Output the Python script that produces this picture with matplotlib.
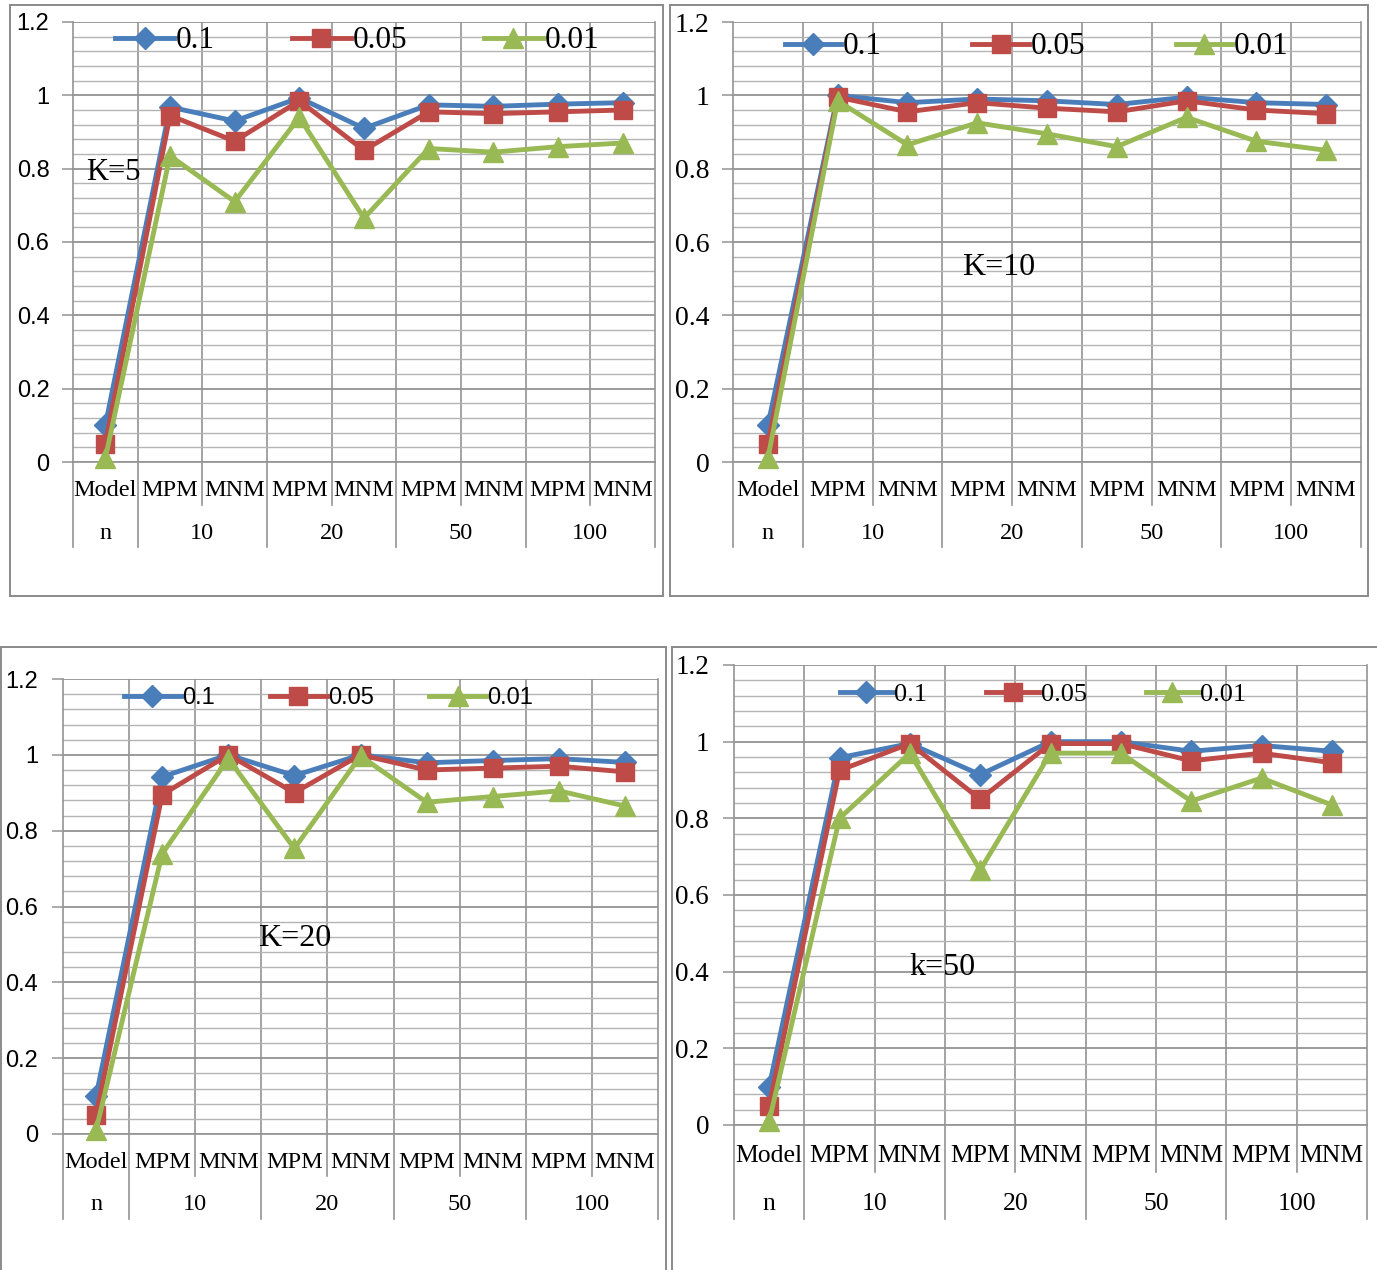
import numpy as np
import matplotlib
matplotlib.use("Agg")
import matplotlib.pyplot as plt
import matplotlib.transforms as mtrans
from matplotlib.lines import Line2D
from matplotlib.patches import Rectangle
from matplotlib.ticker import MultipleLocator

W, H = 1377, 1270

categories = ["Model", "MPM", "MNM", "MPM", "MNM", "MPM", "MNM", "MPM", "MNM"]
groups = ["n", "10", "20", "50", "100"]
group_spans = [(0, 0), (1, 2), (3, 4), (5, 6), (7, 8)]
series_names = ["0.1", "0.05", "0.01"]
y_ticks = [0, 0.2, 0.4, 0.6, 0.8, 1.0, 1.2]
y_ticklabels = ["0", "0.2", "0.4", "0.6", "0.8", "1", "1.2"]

# K=5
k5_a10 = [0.10, 0.968, 0.930, 0.993, 0.910, 0.974, 0.970, 0.976, 0.980]
k5_a05 = [0.05, 0.945, 0.875, 0.985, 0.850, 0.955, 0.950, 0.955, 0.960]
k5_a01 = [0.01, 0.835, 0.710, 0.940, 0.665, 0.855, 0.845, 0.860, 0.870]
# K=10
k10_a10 = [0.10, 1.000, 0.980, 0.990, 0.985, 0.975, 0.995, 0.980, 0.975]
k10_a05 = [0.05, 0.995, 0.955, 0.980, 0.965, 0.955, 0.985, 0.960, 0.950]
k10_a01 = [0.01, 0.985, 0.865, 0.925, 0.895, 0.860, 0.940, 0.875, 0.850]
# K=20
k20_a10 = [0.10, 0.942, 1.000, 0.945, 1.000, 0.979, 0.985, 0.990, 0.980]
k20_a05 = [0.05, 0.895, 1.000, 0.900, 1.000, 0.960, 0.965, 0.970, 0.955]
k20_a01 = [0.01, 0.739, 0.990, 0.753, 0.997, 0.875, 0.890, 0.905, 0.865]
# k=50
k50_a10 = [0.10, 0.958, 0.995, 0.914, 1.000, 1.000, 0.975, 0.990, 0.975]
k50_a05 = [0.05, 0.925, 0.995, 0.850, 0.995, 0.995, 0.950, 0.970, 0.945]
k50_a01 = [0.01, 0.800, 0.970, 0.665, 0.970, 0.970, 0.845, 0.905, 0.835]

colors = ["#4a7ebb", "#be4b48", "#98b954"]
markers = ["D", "s", "^"]
msizes = [11, 13, 14]

SERIF = "Liberation Serif"
SANS = "Liberation Sans"
GRID = "#939393"
GRID_MINOR = "#b4b4b4"

panels = [
    dict(series=[k5_a10, k5_a05, k5_a01], label="K=5", lab_xy=(-0.3, 0.79), lab_ha="left",
         plot=(73, 22, 655, 462), frame=(10, 5, 663, 596),
         tick_font=SANS, tick_size=17, tick_pad=9,
         leg_font=SERIF, leg_size=22.5, leg_at=(115, 41), leg_cs=2.45, leg_hl=1.9,
         cat_size=17.5, row1=490, row2=533, short_end=505, long_end=547, k_size=22),
    dict(series=[k10_a10, k10_a05, k10_a01], label="K=10", lab_xy=(3.31, 0.53), lab_ha="center",
         plot=(733, 22, 1361, 462), frame=(670, 5, 1368, 596),
         tick_font=SERIF, tick_size=20, tick_pad=9,
         leg_font=SERIF, leg_size=22.5, leg_at=(785, 47), leg_cs=2.9, leg_hl=1.8,
         cat_size=17.5, row1=490, row2=533, short_end=505, long_end=547, k_size=23),
    dict(series=[k20_a10, k20_a05, k20_a01], label="K=20", lab_xy=(3.0, 0.516), lab_ha="center",
         plot=(63, 679, 658, 1134), frame=(1, 647, 666, 1290),
         tick_font=SANS, tick_size=17, tick_pad=10,
         leg_font=SANS, leg_size=17, leg_at=(124, 698), leg_cs=2.35, leg_hl=2.4,
         cat_size=17.5, row1=1162, row2=1205, short_end=1176, long_end=1219, k_size=23),
    dict(series=[k50_a10, k50_a05, k50_a01], label="k=50", lab_xy=(2.47, 0.41), lab_ha="center",
         plot=(734, 665, 1367, 1125), frame=(672, 647, 1390, 1290),
         tick_font=SERIF, tick_size=19.5, tick_pad=10,
         leg_font=SERIF, leg_size=19, leg_at=(840, 694), leg_cs=2.25, leg_hl=2.0,
         cat_size=18.5, row1=1156, row2=1204, short_end=1172, long_end=1219, k_size=23),
]

fig = plt.figure(figsize=(W / 100, H / 100), dpi=100)
fig.patch.set_facecolor("white")

x = np.arange(len(categories))
group_edges = {-0.5, 8.5}
for s, e in group_spans:
    group_edges.add(s - 0.5)
    group_edges.add(e + 0.5)

for p in panels:
    fx0, fy0, fx1, fy1 = p["frame"]
    fig.patches.append(Rectangle((fx0 / W, 1 - fy1 / H), (fx1 - fx0) / W, (fy1 - fy0) / H,
                                 transform=fig.transFigure, fill=False,
                                 edgecolor="#8a8a8a", lw=1.4))

    x0, y0, x1, y1 = p["plot"]
    ax = fig.add_axes([x0 / W, 1 - y1 / H, (x1 - x0) / W, (y1 - y0) / H])
    ax.set_xlim(-0.5, 8.5)
    ax.set_ylim(0, 1.2)
    h = y1 - y0

    def yfrac(py):
        return (y1 - py) / h

    ax.set_yticks(y_ticks)
    ax.set_yticklabels(y_ticklabels, fontfamily=p["tick_font"], fontsize=p["tick_size"])
    ax.yaxis.set_minor_locator(MultipleLocator(0.04))
    ax.set_xticks(np.arange(0.5, 8.5, 1.0))
    ax.set_xticklabels([])
    ax.tick_params(axis="x", length=0)
    ax.tick_params(axis="y", which="major", length=8, width=1.1, color=GRID,
                   pad=p["tick_pad"], direction="out")
    ax.tick_params(axis="y", which="minor", length=0)
    ax.grid(which="major", axis="y", color=GRID, lw=1.3)
    ax.grid(which="minor", axis="y", color=GRID_MINOR, lw=1.0)
    ax.grid(which="major", axis="x", color=GRID, lw=1.2)
    ax.set_axisbelow(True)
    for side in ["left", "right", "bottom", "top"]:
        ax.spines[side].set_color(GRID)
        ax.spines[side].set_linewidth(1.2)
    ax.spines["top"].set_visible(False)

    for vals, name, c, m, ms in zip(p["series"], series_names, colors, markers, msizes):
        ax.plot(x, vals, color=c, lw=3.5, marker=m, markersize=ms,
                markeredgecolor=c, label=name, clip_on=False, zorder=3)

    ax.legend(loc="center left",
              bbox_to_anchor=((p["leg_at"][0] - x0) / (x1 - x0), yfrac(p["leg_at"][1])),
              ncol=3, frameon=False, borderpad=0, borderaxespad=0,
              handlelength=p["leg_hl"], handletextpad=0.05,
              columnspacing=p["leg_cs"], numpoints=1,
              prop=dict(family=p["leg_font"], size=p["leg_size"]))

    ax.text(p["lab_xy"][0], p["lab_xy"][1], p["label"], fontfamily=SERIF,
            fontsize=p["k_size"], ha=p["lab_ha"], va="center", zorder=4)

    blend = mtrans.blended_transform_factory(ax.transData, ax.transAxes)
    for b in np.arange(-0.5, 9.0, 1.0):
        end = p["long_end"] if b in group_edges else p["short_end"]
        ax.add_line(Line2D([b, b], [0, yfrac(end)], transform=blend, color=GRID,
                           lw=1.2, clip_on=False))
    for i, c in enumerate(categories):
        ax.text(i, yfrac(p["row1"]), c, transform=blend, ha="center", va="center",
                fontfamily=SERIF, fontsize=p["cat_size"])
    for g, (s, e) in zip(groups, group_spans):
        ax.text((s + e) / 2, yfrac(p["row2"]), g, transform=blend, ha="center",
                va="center", fontfamily=SERIF, fontsize=p["cat_size"])

fig.savefig("out.png", dpi=100)
